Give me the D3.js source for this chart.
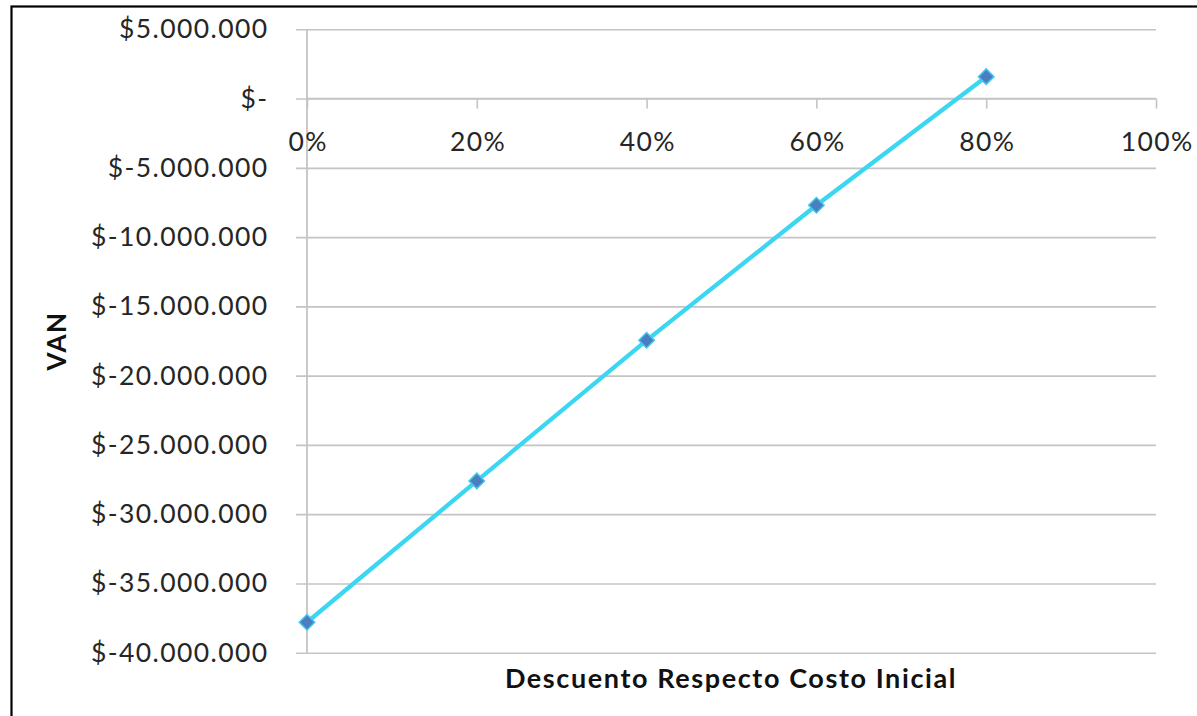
<!DOCTYPE html>
<html>
<head>
<meta charset="utf-8">
<script src="https://cdn.jsdelivr.net/npm/d3@7"></script>
<style>
  html, body { margin: 0; padding: 0; background: #fff; }
  svg { display: block; }
</style>
</head>
<body>
<svg id="chart" width="1197" height="716"></svg>
<script>
// Discount on initial cost vs. net present value (VAN)
const descuentos = [0, 0.2, 0.4, 0.6, 0.8];
const van = [-37800000, -27600000, -17450000, -7700000, 1580000];

const xTicks = [0, 0.2, 0.4, 0.6, 0.8, 1.0];
const xTickLabels = ["0%", "20%", "40%", "60%", "80%", "100%"];
const yTicks = [5000000, 0, -5000000, -10000000, -15000000, -20000000, -25000000, -30000000, -35000000, -40000000];
const yTickLabels = ["$5.000.000", "$-", "$-5.000.000", "$-10.000.000", "$-15.000.000", "$-20.000.000",
                     "$-25.000.000", "$-30.000.000", "$-35.000.000", "$-40.000.000"];

const xTitle = "Descuento Respecto Costo Inicial";
const yTitle = "VAN";

const svg = d3.select("#chart");
const font = "Lato, 'Open Sans', sans-serif";

const plot = { left: 307, right: 1156, top: 29.3, bottom: 652.7 };
const x = d3.scaleLinear().domain([0, 1]).range([plot.left, plot.right]);
const y = d3.scaleLinear().domain([-40000000, 5000000]).range([plot.bottom, plot.top]);

// outer frame
svg.append("rect")
  .attr("x", 11.5).attr("y", 6.5)
  .attr("width", 1300).attr("height", 800)
  .attr("fill", "#fff").attr("stroke", "#000").attr("stroke-width", 2.2);

const gridColor = "#c4c4c4";
const stubX = 296;

// horizontal gridlines (with short stubs left of the value axis)
const grid = svg.append("g")
  .attr("transform", `translate(${stubX},0)`)
  .call(d3.axisRight(y).tickValues(yTicks).tickSize(plot.right - stubX).tickFormat(""));
grid.select(".domain").remove();
grid.selectAll(".tick line").attr("stroke", gridColor).attr("stroke-width", 1.6);

// value labels
const yLab = svg.append("g")
  .attr("transform", `translate(${stubX},0)`)
  .call(d3.axisLeft(y).tickValues(yTicks).tickSize(0).tickPadding(27.5)
    .tickFormat((d, i) => yTickLabels[i]));
yLab.select(".domain").remove();
yLab.selectAll("text")
  .attr("font-family", font).attr("font-size", 26.5).attr("fill", "#262626")
  .attr("letter-spacing", 1.4);

// vertical value axis line
svg.append("line")
  .attr("x1", x(0)).attr("x2", x(0))
  .attr("y1", y(5000000)).attr("y2", y(-40000000))
  .attr("stroke", gridColor).attr("stroke-width", 1.8);

// category axis at zero
const xAxis = svg.append("g")
  .attr("transform", `translate(0,${y(0)})`)
  .call(d3.axisBottom(x).tickValues(xTicks).tickSize(10).tickPadding(24)
    .tickFormat((d, i) => xTickLabels[i]));
xAxis.select(".domain").attr("stroke", gridColor).attr("stroke-width", 1.6)
  .attr("d", `M${x(0)},0H${x(1)}`);
xAxis.selectAll(".tick line").attr("stroke", gridColor).attr("stroke-width", 1.6);
xAxis.selectAll("text")
  .attr("font-family", font).attr("font-size", 26.5).attr("fill", "#262626")
  .attr("letter-spacing", 1.4).attr("dx", 0.7);

// series line
const pts = descuentos.map((d, i) => [d, van[i]]);
svg.append("path")
  .datum(pts)
  .attr("fill", "none")
  .attr("stroke", "#3bd6f1")
  .attr("stroke-width", 4.3)
  .attr("stroke-linejoin", "round")
  .attr("d", d3.line().x(d => x(d[0])).y(d => y(d[1])));

// diamond markers
svg.append("g").selectAll("path")
  .data(pts)
  .join("path")
  .attr("transform", d => `translate(${x(d[0])},${y(d[1])}) rotate(45)`)
  .attr("d", d3.symbol().type(d3.symbolSquare).size(120))
  .attr("fill", "#4a7ec0")
  .attr("stroke", "#45c6ea")
  .attr("stroke-width", 1.5);

// axis titles
svg.append("text")
  .attr("x", 731).attr("y", 677)
  .attr("text-anchor", "middle").attr("dominant-baseline", "central")
  .attr("font-family", font).attr("font-weight", "bold").attr("font-size", 27)
  .attr("letter-spacing", 1.6)
  .attr("fill", "#111")
  .text(xTitle);

svg.append("text")
  .attr("transform", `translate(56,${(plot.top + plot.bottom) / 2}) rotate(-90)`)
  .attr("text-anchor", "middle").attr("dominant-baseline", "central")
  .attr("font-family", font).attr("font-weight", "bold").attr("font-size", 26)
  .attr("letter-spacing", 1.5)
  .attr("fill", "#111")
  .text(yTitle);
</script>
</body>
</html>
